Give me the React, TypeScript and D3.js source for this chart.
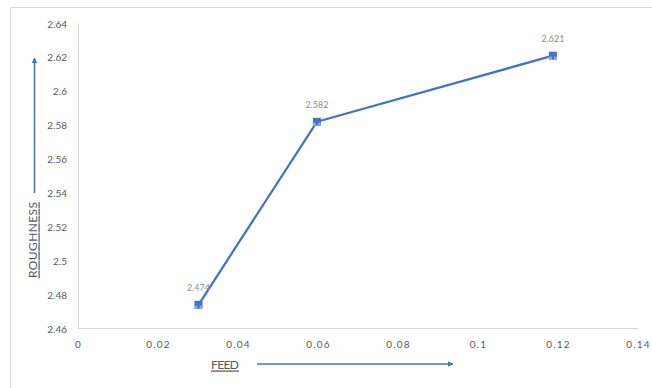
import React from "react";
import * as d3 from "d3";

// Feed (mm/rev) against surface roughness
const feed = [0.03, 0.0596, 0.1186];
const roughness = [2.474, 2.582, 2.621];
const xTicks = [0, 0.02, 0.04, 0.06, 0.08, 0.1, 0.12, 0.14];
const yTicks = [2.46, 2.48, 2.5, 2.52, 2.54, 2.56, 2.58, 2.6, 2.62, 2.64];

const W = 652;
const H = 388;
const BLUE = "#4472C4";
const FONT = "Lato, 'Open Sans', sans-serif";

export default function App() {
  const x = d3.scaleLinear().domain([0, 0.14]).range([78.5, 638.5]);
  const y = d3.scaleLinear().domain([2.46, 2.64]).range([328.5, 23.5]);

  const pts = feed.map((f, i) => ({ f, r: roughness[i] }));
  const line = d3
    .line<{ f: number; r: number }>()
    .x((d) => x(d.f))
    .y((d) => y(d.r));

  const fmt = (v: number) => d3.format("~g")(v);

  return (
    <svg
      width={W}
      height={H}
      style={{ position: "absolute", left: 0, top: 0, background: "#fff" }}
      fontFamily={FONT}
    >
      <defs>
        <marker
          id="arrowHead"
          viewBox="0 0 10 10"
          refX="9"
          refY="5"
          markerWidth="4"
          markerHeight="4"
          orient="auto"
        >
          <path d="M0,0 L10,5 L0,10 z" fill={BLUE} />
        </marker>
      </defs>

      {/* chart frame */}
      <rect x={0} y={0} width={W} height={H} fill="#fff" />
      <path d={`M10.5,${H} V7.5 H${W}`} fill="none" stroke="#d9d9d9" strokeWidth={1} />

      {/* axes */}
      <line x1={x(0)} x2={x(0)} y1={y(2.64)} y2={y(2.46)} stroke="#d9d9d9" strokeWidth={1} />
      <line x1={x(0)} x2={x(0.14)} y1={y(2.46)} y2={y(2.46)} stroke="#d9d9d9" strokeWidth={1} />

      {yTicks.map((t) => (
        <text
          key={`y${t}`}
          x={67}
          y={y(t)}
          textAnchor="end"
          dominantBaseline="central"
          fontSize={10}
          fill="#595959"
        >
          {fmt(t)}
        </text>
      ))}
      {xTicks.map((t) => (
        <text
          key={`x${t}`}
          x={x(t)}
          y={344}
          textAnchor="middle"
          dominantBaseline="central"
          fontSize={10}
          letterSpacing={1.2}
          fill="#595959"
        >
          {fmt(t)}
        </text>
      ))}

      {/* series */}
      <path d={line(pts) ?? ""} fill="none" stroke={BLUE} strokeWidth={2.25} strokeLinejoin="round" />
      {pts.map((p, i) => {
        const cx = x(p.f);
        const cy = y(p.r);
        return (
          <g key={`m${i}`}>
            <rect x={cx - 4} y={cy - 4} width={8} height={8} fill={BLUE} />
            <rect x={cx - 4} y={cy + 1} width={3} height={3} fill="#8faadc" />
            <rect x={cx + 1} y={cy + 1} width={3} height={3} fill="#8faadc" />
          </g>
        );
      })}
      {pts.map((p, i) => (
        <text
          key={`l${i}`}
          x={x(p.f)}
          y={y(p.r) - 17}
          textAnchor="middle"
          dominantBaseline="central"
          fontSize={9}
          fill="#8c8c8c"
        >
          {p.r.toFixed(3)}
        </text>
      ))}

      {/* axis titles with direction arrows */}
      <text
        x={211}
        y={364}
        dominantBaseline="central"
        fontSize={12}
        fill="#595959"
        textDecoration="underline"
        textLength={28}
      >
        FEED
      </text>
      <line x1={257} y1={364} x2={453} y2={364} stroke={BLUE} strokeWidth={1.5} markerEnd="url(#arrowHead)" />

      <text
        transform={`translate(32,278) rotate(-90)`}
        dominantBaseline="central"
        fontSize={12}
        fill="#595959"
        textDecoration="underline"
        textLength={76}
      >
        ROUGHNESS
      </text>
      <line x1={34.5} y1={193} x2={34.5} y2={58} stroke={BLUE} strokeWidth={1.5} markerEnd="url(#arrowHead)" />
    </svg>
  );
}
